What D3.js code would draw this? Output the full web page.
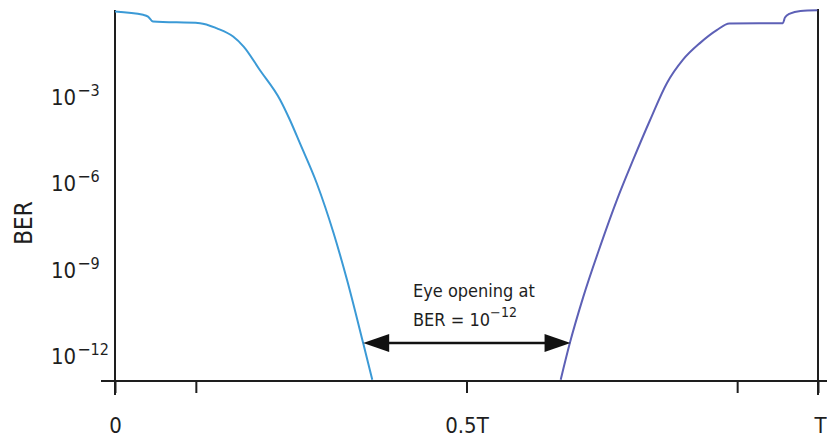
<!DOCTYPE html>
<html>
<head>
<meta charset="utf-8">
<script src="https://cdn.jsdelivr.net/npm/d3@7"></script>
<style>
  html, body { margin: 0; padding: 0; background: #fff; }
  svg { display: block; }
  text { font-family: "Liberation Sans Narrow", "DejaVu Sans Condensed", "Roboto", sans-serif; fill: #1e1e1e; }
</style>
</head>
<body>
<svg id="chart" width="827" height="439"></svg>
<script>
// ---- data ----
// time within one bit period, as fraction of T
const leftX  = [0, 0.040, 0.047, 0.054, 0.121, 0.145, 0.168, 0.183, 0.206, 0.235, 0.249, 0.263, 0.287, 0.311, 0.330, 0.353, 0.366];
const leftBER = [0.89, 0.68, 0.59, 0.40, 0.35, 0.23, 0.12, 5.4e-2, 8.3e-3, 7.6e-4, 1.5e-4, 2.4e-5, 9.8e-7, 1.8e-8, 4.4e-10, 2.8e-12, 1.5e-13];
const rightX  = [0.634, 0.647, 0.666, 0.690, 0.714, 0.737, 0.761, 0.785, 0.808, 0.832, 0.856, 0.874, 0.950, 0.953, 0.960, 0.975, 0.999];
const rightBER = [1.5e-13, 2.8e-12, 1.1e-10, 6.2e-9, 2.6e-7, 6.3e-6, 1.5e-4, 2.9e-3, 1.9e-2, 7.1e-2, 0.20, 0.34, 0.35, 0.55, 0.75, 0.93, 0.98];
const yTickExps = [-3, -6, -9, -12];
const xTickValues = [0, 0.115, 0.5, 0.885, 1];
const xTickLabels = ["0", "", "0.5T", "", "T"];
const eyeLeft = 0.353, eyeRight = 0.648, eyeLevel = 2.8e-12;
const annotLines = ["Eye opening at", "BER = 10"];
const annotExp = "12";
const yLabel = "BER";

// ---- layout ----
const svg = d3.select("#chart");
const W = 827, H = 439;
const x = d3.scaleLinear().domain([0, 1]).range([115, 818]);
const y = d3.scaleLog().domain([Math.pow(10, -12.867), 1]).range([381, 10]);
const axisColor = "#1e1e1e";

// bottom axis
const xAxis = d3.axisBottom(x).tickValues(xTickValues).tickSize(12).tickFormat((d, i) => xTickLabels[i]);
const gx = svg.append("g").attr("transform", `translate(0,${y.range()[0]})`).call(xAxis);
gx.select(".domain").remove();
gx.selectAll(".tick line").attr("stroke", axisColor).attr("stroke-width", 2);
gx.selectAll(".tick text").attr("y", 52).attr("dy", 0).style("font-size", "22px")
  .attr("fill", "#1e1e1e").attr("font-family", null)
  .attr("text-anchor", d => d === 1 ? "end" : "middle")
  .attr("dx", d => d === 1 ? W - 1 - x(1) : 0);
svg.append("line").attr("x1", x(0) - 14).attr("x2", W).attr("y1", y.range()[0]).attr("y2", y.range()[0])
  .attr("stroke", axisColor).attr("stroke-width", 2);

// vertical frame lines at 0 and T
[0, 1].forEach(v => {
  svg.append("line").attr("x1", x(v)).attr("x2", x(v)).attr("y1", y.range()[1] - (v ? 1 : 0)).attr("y2", y.range()[0] + 14)
    .attr("stroke", axisColor).attr("stroke-width", 2);
});

// left axis labels
const yAxis = d3.axisLeft(y).tickValues(yTickExps.map(e => Math.pow(10, e))).tickSize(0).tickFormat("");
const gy = svg.append("g").attr("transform", `translate(${x(0)},0)`).call(yAxis);
gy.select(".domain").remove();
gy.selectAll(".tick").each(function(d, i) {
  const t = d3.select(this).append("text").attr("x", 51 - x(0)).attr("dy", "0.36em")
    .attr("text-anchor", "start").style("font-size", "22px");
  t.append("tspan").text("10");
  t.append("tspan").attr("dy", -9).attr("dx", 1).style("font-size", "16px").style("font-family", "DejaVu Sans").text("\u2212");
  t.append("tspan").style("font-size", "16px").text(String(-yTickExps[i]));
});

// y axis title
svg.append("text").attr("transform", `translate(32,223) rotate(-90)`).attr("text-anchor", "middle")
  .style("font-size", "24px").text(yLabel);

// curves
const line = d3.line().x(d => x(d[0])).y(d => y(d[1])).curve(d3.curveMonotoneX);
svg.append("path").datum(leftX.map((v, i) => [v, leftBER[i]])).attr("d", line)
  .attr("fill", "none").attr("stroke", "#3b9ad6").attr("stroke-width", 2);
svg.append("path").datum(rightX.map((v, i) => [v, rightBER[i]])).attr("d", line)
  .attr("fill", "none").attr("stroke", "#5d60b6").attr("stroke-width", 2);

// eye opening arrow
const ay = y(eyeLevel), ax1 = x(eyeLeft), ax2 = x(eyeRight);
const headL = 26, headH = 9;
svg.append("line").attr("x1", ax1 + headL - 2).attr("x2", ax2 - headL + 2).attr("y1", ay).attr("y2", ay)
  .attr("stroke", "#111").attr("stroke-width", 2.5);
svg.append("path").attr("d", `M${ax1},${ay} L${ax1 + headL},${ay - headH} L${ax1 + headL},${ay + headH} Z`).attr("fill", "#111");
svg.append("path").attr("d", `M${ax2},${ay} L${ax2 - headL},${ay - headH} L${ax2 - headL},${ay + headH} Z`).attr("fill", "#111");

// annotation text
const annot = svg.append("g").style("font-size", "18px");
annot.append("text").attr("x", 413).attr("y", 297).text(annotLines[0]);
const t2 = annot.append("text").attr("x", 413).attr("y", 326);
t2.append("tspan").text(annotLines[1]);
t2.append("tspan").attr("dy", -9).style("font-size", "13px").style("font-family", "DejaVu Sans").text("\u2212");
t2.append("tspan").style("font-size", "14px").text(annotExp);
</script>
</body>
</html>
